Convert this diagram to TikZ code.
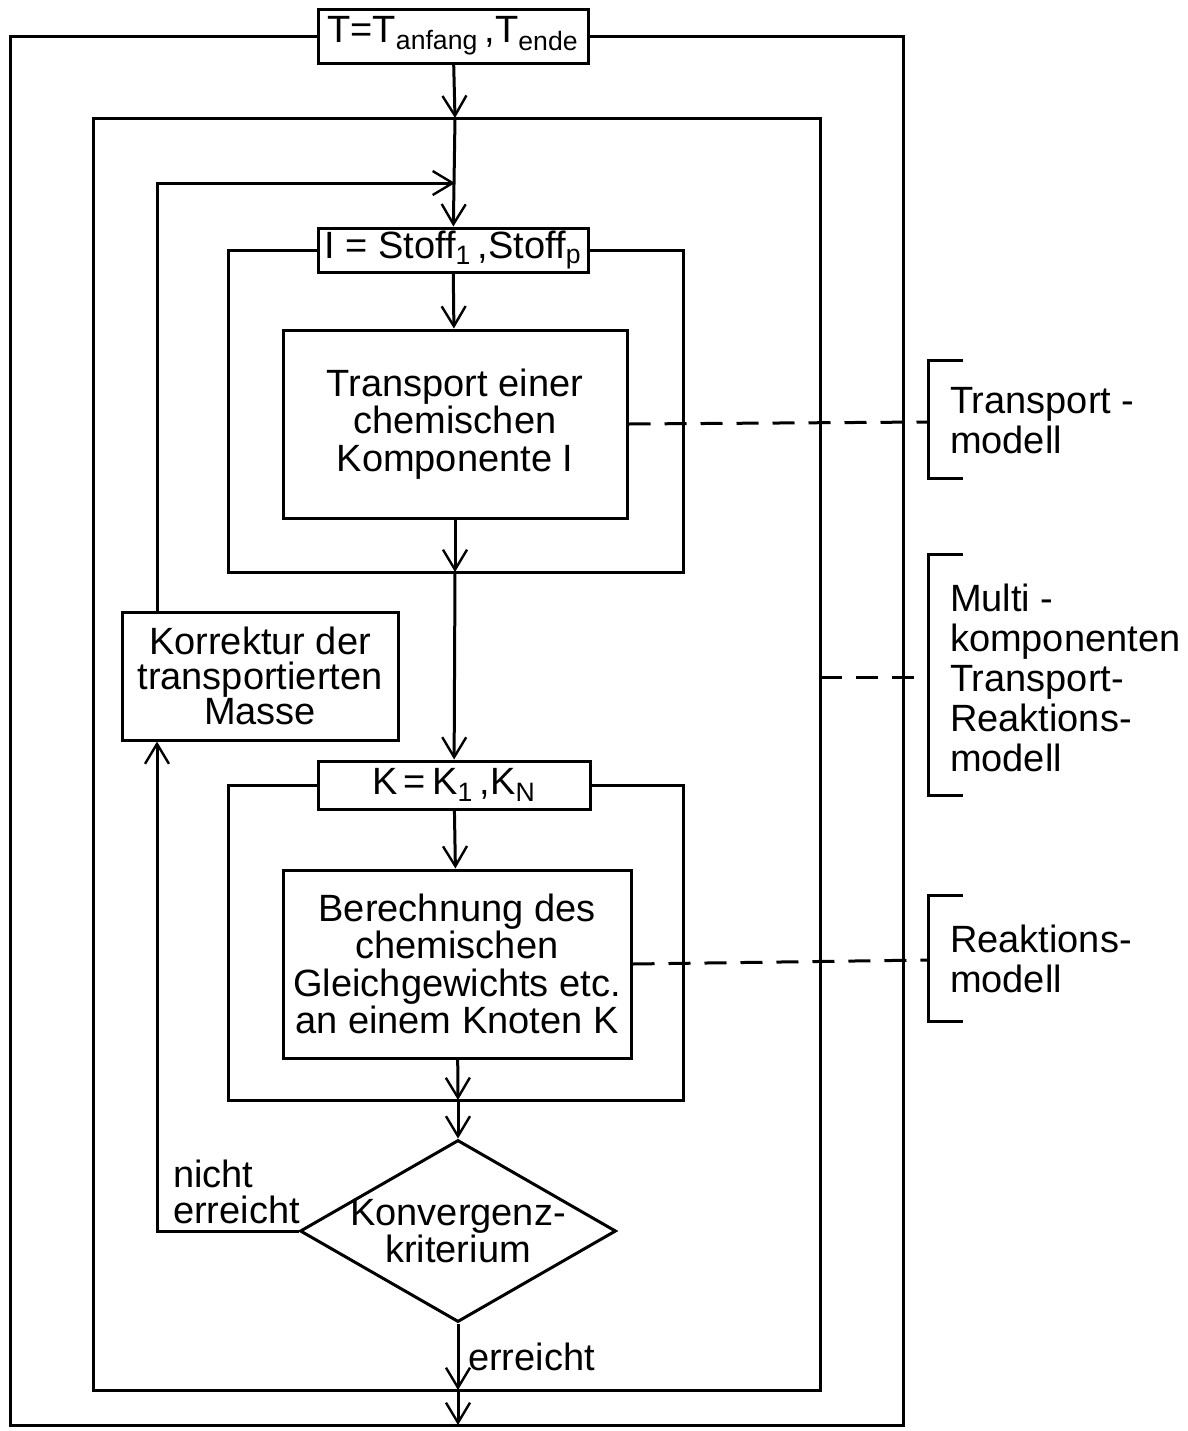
\documentclass[tikz,border=0pt]{standalone}
\usepackage{fontspec}
\setmainfont{Liberation Sans}
\usepackage{tikz}
\usetikzlibrary{arrows.meta,shapes.geometric}

\begin{document}
\begin{tikzpicture}[x=0.5pt, y=-0.5pt,
  font=\fontsize{19}{18.75}\selectfont,
  box/.style={draw, line width=1.5pt, inner sep=0pt, align=center},
  flow/.style={line width=1.5pt, -{Straight Barb[length=10pt,width=12pt,line width=1.2pt]}},
  loopline/.style={line width=1.5pt},
  modlink/.style={line width=1.5pt, dash pattern=on 11pt off 7pt},
  bracket/.style={line width=1.5pt},
  modtext/.style={anchor=west, align=left, font=\fontsize{19}{20}\selectfont}]
\useasboundingbox (0,0) rectangle (1188,1431);

% boxes of the flow
\node[box, minimum width=135pt, minimum height=27pt] (tbox) at (453,36) {T=T\textsubscript{anfang}\,,T\textsubscript{ende}};
\node[box, minimum width=135pt, minimum height=22pt] (ibox) at (453,250) {I = Stoff\textsubscript{1}\,,Stoff\textsubscript{p}};
\node[box, minimum width=172pt, minimum height=94pt] (trans) at (455,424) {Transport einer\\chemischen\\Komponente I};
\node[box, minimum width=136pt, minimum height=24pt] (kbox) at (454,785) {K\,=\,K\textsubscript{1}\,,K\textsubscript{N}};
\node[box, minimum width=174pt, minimum height=94pt] (berech) at (457,964) {Berechnung des\\chemischen\\Gleichgewichts etc.\\an einem Knoten K};
\node[box, minimum width=138pt, minimum height=64pt, font=\fontsize{19}{17.5}\selectfont] (kor) at (260,676) {Korrektur der\\transportierten\\Masse};
\node[box, diamond, minimum width=158pt, minimum height=91pt] (konv) at (458,1231) {};
\node[align=center] (konvtext) at (konv) {Konvergenz-\\kriterium};

% corners of the loops
\coordinate (tL) at (10,1425);
\coordinate (tR) at (903,1425);
\coordinate (sTL) at (93,118);
\coordinate (sBR) at (820,1390);
\coordinate (iL) at (228,572);
\coordinate (iR) at (683,572);
\coordinate (kL) at (228,1100);
\coordinate (kR) at (683,1100);
\coordinate (j1) at (455,118);
\coordinate (j2) at (455,183);
\coordinate (j3) at (455,572);
\coordinate (j4) at (458,1100);
\coordinate (j5) at (458,1390);
\coordinate (j6) at (458,1425);
\coordinate (rueck) at (157,183);

% loops
\draw[loopline] (tbox.west) -| (tL) -- (tR) |- (tbox.east);
\draw[loopline] (sTL) rectangle (sBR);
\draw[loopline] (ibox.west) -| (iL) -- (iR) |- (ibox.east);
\draw[loopline] (kbox.west) -| (kL) -- (kR) |- (kbox.east);

% main flow
\draw[flow] (tbox) -- (j1);
\draw[flow] (j1) -- (ibox);
\draw[flow] (ibox) -- (trans);
\draw[flow] (trans) -- (j3);
\draw[flow] (j3) -- (kbox);
\draw[flow] (kbox) -- (berech);
\draw[flow] (berech) -- (j4);
\draw[flow] (j4) -- (konv.north);
\draw[flow] (konv.south) -- (j5) node[midway, right=1pt] {erreicht};
\draw[flow] (j5) -- (j6);

% return branch
\draw[flow] (konv.west) -| (rueck |- kor.south);
\draw[flow] (rueck |- kor.north) -- (rueck) -- (j2);
\node[anchor=west, align=left, font=\fontsize{19}{18}\selectfont] (nicht) at (166,1192) {nicht\\erreicht};

% model brackets
\coordinate (b1) at (928,422);
\coordinate (b2) at (928,677);
\coordinate (b3) at (928,960);
\coordinate (m2) at (820,677);
\draw[bracket] (963,360) -- (928,360) -- (928,478) -- (963,478);
\draw[bracket] (963,554) -- (928,554) -- (928,795) -- (963,795);
\draw[bracket] (963,895) -- (928,895) -- (928,1021) -- (963,1021);
\draw[modlink] (trans.east) -- (b1);
\draw[modlink] (m2) -- (b2);
\draw[modlink] (berech.east) -- (b3);
\node[modtext] (tmod) at (943,421) {Transport -\\modell};
\node[modtext] (mmod) at (943,678) {Multi -\\komponenten\\Transport-\\Reaktions-\\modell};
\node[modtext] (rmod) at (943,959) {Reaktions-\\modell};
\end{tikzpicture}
\end{document}
